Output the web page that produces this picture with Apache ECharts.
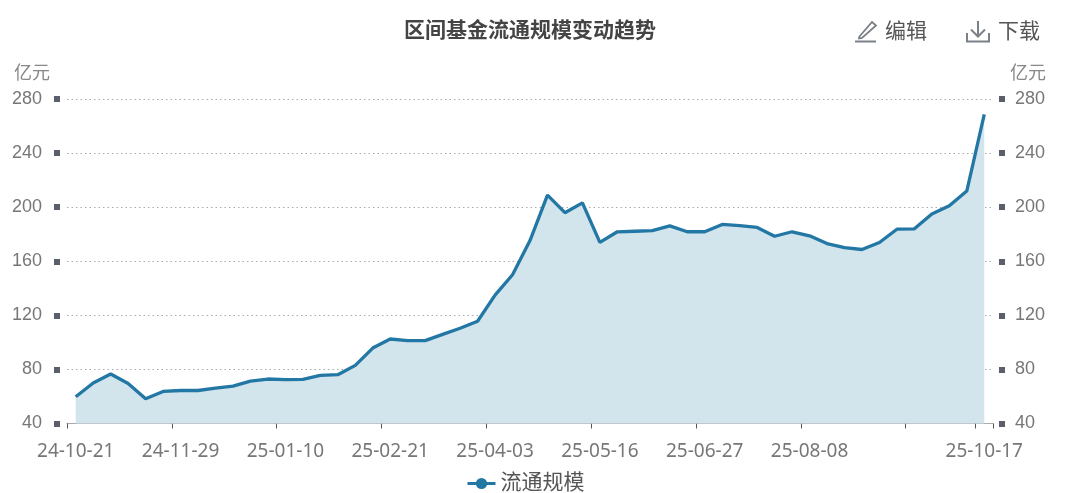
<!DOCTYPE html>
<html><head><meta charset="utf-8">
<style>html,body{margin:0;padding:0;background:#fff}#c{width:1069px;height:493px}</style>
<script src="https://cdn.jsdelivr.net/npm/echarts@6/dist/echarts.min.js"></script>
</head><body><div id="c"></div>
<script>
const titleText = '区间基金流通规模变动趋势';
const seriesName = '流通规模';
const unitName = '亿元';
const categories = ['24-10-21','24-10-25','24-11-01','24-11-08','24-11-15','24-11-22','24-11-29','24-12-06','24-12-13','24-12-20','24-12-27','25-01-03','25-01-10','25-01-17','25-01-24','25-01-27','25-02-07','25-02-14','25-02-21','25-02-28','25-03-07','25-03-14','25-03-21','25-03-28','25-04-03','25-04-11','25-04-18','25-04-25','25-04-30','25-05-09','25-05-16','25-05-23','25-05-30','25-06-06','25-06-13','25-06-20','25-06-27','25-07-04','25-07-11','25-07-18','25-07-25','25-08-01','25-08-08','25-08-15','25-08-22','25-08-29','25-09-05','25-09-12','25-09-19','25-09-26','25-09-30','25-10-10','25-10-17'];
const values = [59.8,69.9,76.6,69.6,58.3,63.7,64.4,64.4,66.2,67.7,71.4,72.9,72.4,72.7,75.6,76.1,83,95.8,102.5,101.3,101.3,105.9,110.4,115.6,135,150,175.3,208.9,195.9,203.2,174,181.8,182.2,182.6,186.2,181.8,181.8,187.2,186.4,185,178.5,181.8,178.8,173.1,170,168.7,173.9,183.7,184,195,201,211.9,268.7];
const hiddenLabels = ['25-09-19'];
const yTickStep = 40, yMin = 40, yMax = 280;

const chart = echarts.init(document.getElementById('c'), null, {renderer:'canvas'});
const latin = '"Liberation Sans", Arial, "Noto Sans CJK SC", sans-serif';
const xfont = '"Noto Sans", "Noto Sans CJK SC", sans-serif';
const grey = '#777';
function yAxis(pos, offset){
  const left = pos==='left';
  return {
    type:'value', position:pos, min:yMin, max:yMax, interval:yTickStep, offset:offset,
    name:unitName, nameLocation:'end', nameGap:16,
    nameTextStyle:{color:'#888', fontSize:18, fontFamily:latin, align:left?'right':'left',
      padding:left?[0,10,0,0]:[0,0,0,11]},
    axisLine:{show:false},
    axisTick:{show:true, length:6, lineStyle:{color:'#5a5f6b', width:6}},
    axisLabel:{color:grey, fontSize:18, margin:left?18:16, fontFamily:latin, padding:[4,0,0,0]},
    splitLine:{show:left, lineStyle:{color:'#aaa', type:[1.5,3], width:1}}
  };
}
chart.setOption({
  animation:false,
  backgroundColor:'#fff',
  title:{text:titleText, left:525, top:16, textAlign:'center',
    textStyle:{color:'#444', fontSize:21, fontWeight:'bold', fontFamily:latin}},
  legend:{data:[seriesName], left:461, top:468, itemWidth:28, itemHeight:14, itemGap:7,
    lineStyle:{width:3},
    textStyle:{color:'#555', fontSize:21, fontFamily:latin}},
  grid:{left:67, right:76, top:99, bottom:69.5},
  xAxis:{
    type:'category', data:categories, boundaryGap:true,
    axisLine:{show:true, lineStyle:{color:'#aaa', width:1}},
    axisTick:{show:true, length:5, lineStyle:{color:'#555'},
      interval:(i)=> i%6===0 || i===categories.length-1},
    axisLabel:{color:grey, fontSize:19, margin:19, fontFamily:xfont,
      interval:(i,v)=> (i%6===0 && !hiddenLabels.includes(v)) || i===categories.length-1},
    splitLine:{show:false}
  },
  yAxis:[yAxis('left',7), yAxis('right',6)],
  series:[{
    name:seriesName, type:'line', data:values, yAxisIndex:0,
    symbol:'circle', symbolSize:10, showSymbol:false, smooth:false,
    itemStyle:{color:'#2377a4'},
    lineStyle:{color:'#2377a4', width:3.3},
    areaStyle:{color:'#d2e4ec', opacity:1}
  }],
  graphic:[
    {type:'text', left:885, top:22, style:{text:'编辑', fill:'#555', fontSize:21, fontFamily:latin}},
    {type:'text', left:998, top:22, style:{text:'下载', fill:'#555', fontSize:21, fontFamily:latin}},
    {type:'polyline', shape:{points:[[855,41.5],[876,41.5]]}, style:{stroke:'#7b8088', lineWidth:2, fill:null}},
    {type:'polyline', shape:{points:[[859,37],[872,22],[876,25.5],[862,38],[859,38.5],[859,37]]}, style:{stroke:'#7b8088', lineWidth:1.8, fill:null}},
    {type:'polyline', shape:{points:[[967,33],[967,41.5],[989,41.5],[989,33]]}, style:{stroke:'#7b8088', lineWidth:2, fill:null}},
    {type:'polyline', shape:{points:[[978,21],[978,36]]}, style:{stroke:'#7b8088', lineWidth:2, fill:null}},
    {type:'polyline', shape:{points:[[971,29.5],[978,36.5],[985,29.5]]}, style:{stroke:'#7b8088', lineWidth:2, fill:null}}
  ]
});
</script></body></html>
